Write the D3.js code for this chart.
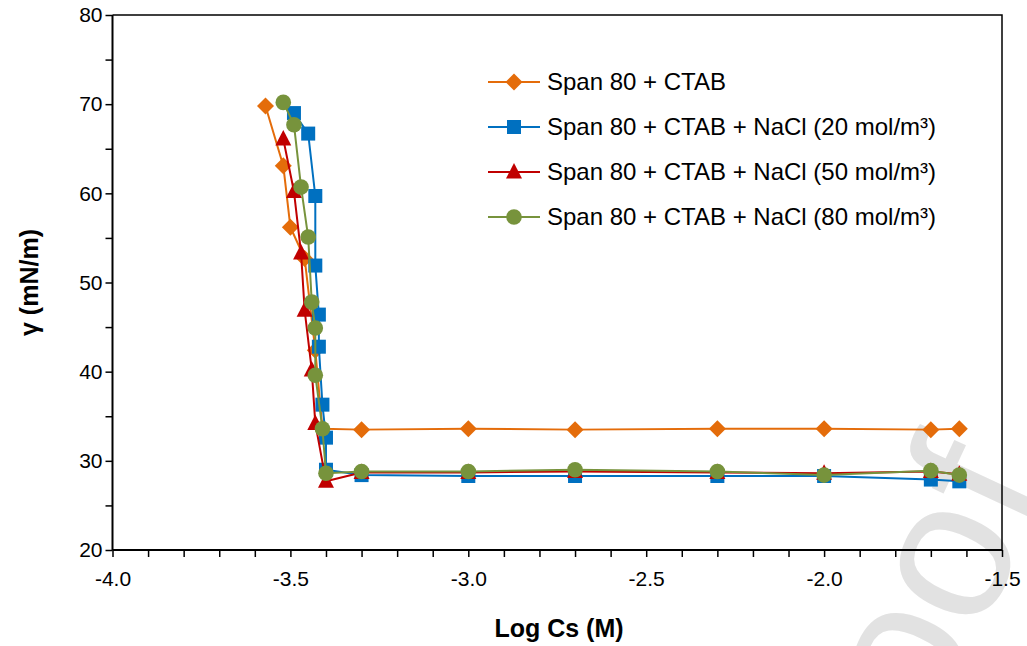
<!DOCTYPE html>
<html>
<head>
<meta charset="utf-8">
<script src="https://cdn.jsdelivr.net/npm/d3@7"></script>
<style>
  html, body { margin: 0; padding: 0; background: #fff; }
  svg { display: block; font-family: "Liberation Sans", Arial, sans-serif; }
</style>
</head>
<body>
<svg id="chart" width="1027" height="646"></svg>
<script>
// Surface tension vs. log surfactant concentration
const seriesNames = [
  "Span 80 + CTAB",
  "Span 80 + CTAB + NaCl (20 mol/m\u00B3)",
  "Span 80 + CTAB + NaCl (50 mol/m\u00B3)",
  "Span 80 + CTAB + NaCl (80 mol/m\u00B3)"
];

const logCsCTAB = [-3.57, -3.52, -3.50, -3.46, -3.43, -3.41, -3.30, -3.00, -2.70, -2.30, -2.00, -1.70, -1.62];
const gammaCTAB = [69.8, 63.1, 56.2, 52.7, 42.4, 33.6, 33.5, 33.6, 33.5, 33.6, 33.6, 33.5, 33.6];

const logCsNaCl20 = [-3.49, -3.45, -3.43, -3.43, -3.42, -3.42, -3.41, -3.40, -3.40, -3.30, -3.00, -2.70, -2.30, -2.00, -1.70, -1.62];
const gammaNaCl20 = [69.0, 66.7, 59.7, 51.9, 46.4, 42.8, 36.3, 32.6, 29.0, 28.4, 28.3, 28.3, 28.3, 28.3, 27.9, 27.7];

const logCsNaCl50 = [-3.52, -3.49, -3.47, -3.46, -3.44, -3.43, -3.40, -3.30, -3.00, -2.70, -2.30, -2.00, -1.70, -1.62];
const gammaNaCl50 = [66.1, 60.2, 53.3, 46.9, 40.2, 34.2, 27.7, 28.7, 28.7, 28.8, 28.7, 28.6, 28.8, 28.5];

const logCsNaCl80 = [-3.52, -3.49, -3.47, -3.45, -3.44, -3.43, -3.43, -3.41, -3.40, -3.30, -3.00, -2.70, -2.30, -2.00, -1.70, -1.62];
const gammaNaCl80 = [70.2, 67.7, 60.7, 55.1, 47.8, 44.9, 39.6, 33.6, 28.6, 28.8, 28.8, 29.0, 28.8, 28.4, 28.9, 28.4];

const xTickValues = [-4.0, -3.5, -3.0, -2.5, -2.0, -1.5];
const yTickValues = [20, 30, 40, 50, 60, 70, 80];
const xMinorStep = 0.1;
const yMinorStep = 5;

const xTitle = "Log Cs (M)";
const yTitle = "\u03B3 (mN/m)";
const watermarkText = "Journal Pre-proof";

const series = [
  { name: seriesNames[0], x: logCsCTAB,   y: gammaCTAB,   color: "#E46C0A", shape: "diamond" },
  { name: seriesNames[1], x: logCsNaCl20, y: gammaNaCl20, color: "#0070C0", shape: "square" },
  { name: seriesNames[2], x: logCsNaCl50, y: gammaNaCl50, color: "#C00000", shape: "triangle" },
  { name: seriesNames[3], x: logCsNaCl80, y: gammaNaCl80, color: "#77933C", shape: "circle" }
];

const svg = d3.select("#chart");
const margin = { left: 112.5, right: 1027 - 1002, top: 15, bottom: 646 - 550 };
const W = 1027, H = 646;

const x = d3.scaleLinear().domain([-4.0, -1.5]).range([margin.left, W - margin.right]);
const y = d3.scaleLinear().domain([20, 80]).range([H - margin.bottom, margin.top]);

// faint diagonal watermark behind the plot
svg.append("text")
  .attr("x", 0).attr("y", 0)
  .attr("transform", "translate(1050,485) rotate(-65)")
  .attr("text-anchor", "end")
  .attr("font-size", 200)
  .attr("fill", "#e2e2e2")
  .text(watermarkText);

// plot frame (top and right edges)
svg.append("path")
  .attr("d", `M${x(-4)},${y(80)} H${x(-1.5)} V${y(20)}`)
  .attr("fill", "none").attr("stroke", "#000").attr("stroke-width", 1.5);

// axes
const xMinor = d3.range(-4.0, -1.5 + 1e-9, xMinorStep);
const yMinor = d3.range(20, 80 + 1e-9, yMinorStep);

const gx = svg.append("g").attr("transform", `translate(0,${y(20)})`);
gx.call(d3.axisBottom(x).tickValues(xMinor).tickSize(7).tickFormat(""));
gx.call(g => g.selectAll(".tick line").attr("stroke", "#000").attr("stroke-width", 1.5));
gx.select(".domain").attr("stroke", "#000").attr("stroke-width", 2).attr("d", `M${x(-4)},0H${x(-1.5)}`);
const gxl = svg.append("g").attr("transform", `translate(0,${y(20)})`)
  .call(d3.axisBottom(x).tickValues(xTickValues).tickSize(0).tickPadding(21).tickFormat(d3.format(".1f")));
gxl.select(".domain").remove();
gxl.selectAll("text").attr("font-size", 21).attr("fill", "#000")
  .attr("font-family", "'Liberation Sans', Arial, sans-serif")
  .text(d => d3.format(".1f")(d).replace("\u2212", "-"));

const gy = svg.append("g").attr("transform", `translate(${x(-4)},0)`);
gy.call(d3.axisLeft(y).tickValues(yMinor).tickSize(7).tickFormat(""));
gy.call(g => g.selectAll(".tick line").attr("stroke", "#000").attr("stroke-width", 1.5));
gy.select(".domain").attr("stroke", "#000").attr("stroke-width", 2).attr("d", `M0,${y(20)}V${y(80)}`);
const gyl = svg.append("g").attr("transform", `translate(${x(-4)},0)`)
  .call(d3.axisLeft(y).tickValues(yTickValues).tickSize(0).tickPadding(10));
gyl.select(".domain").remove();
gyl.selectAll("text").attr("font-size", 21).attr("fill", "#000")
  .attr("font-family", "'Liberation Sans', Arial, sans-serif");

// axis titles
svg.append("text")
  .attr("x", 559).attr("y", 637)
  .attr("text-anchor", "middle").attr("font-size", 25).attr("font-weight", "bold")
  .text(xTitle);
svg.append("text")
  .attr("transform", `translate(38,${(y(20) + y(80)) / 2}) rotate(-90)`)
  .attr("text-anchor", "middle").attr("font-size", 25).attr("font-weight", "bold")
  .text(yTitle);

// marker drawing
function marker(sel, shape, color) {
  if (shape === "diamond") {
    sel.append("path").attr("d", "M0,-8.5L8.5,0L0,8.5L-8.5,0Z").attr("fill", color);
  } else if (shape === "square") {
    sel.append("rect").attr("x", -7).attr("y", -7).attr("width", 14).attr("height", 14).attr("fill", color);
  } else if (shape === "triangle") {
    sel.append("path").attr("d", "M0,-9L8,6.5L-8,6.5Z").attr("fill", color);
  } else {
    sel.append("circle").attr("r", 7.8).attr("fill", color);
  }
}

const line = d3.line().x(d => x(d[0])).y(d => y(d[1]));

series.forEach(s => {
  const pts = s.x.map((v, i) => [v, s.y[i]]);
  const g = svg.append("g");
  g.append("path").datum(pts).attr("d", line)
    .attr("fill", "none").attr("stroke", s.color).attr("stroke-width", 2).attr("stroke-linejoin", "round");
  g.selectAll("g.pt").data(pts).join("g").attr("class", "pt")
    .attr("transform", d => `translate(${x(d[0])},${y(d[1])})`)
    .each(function () { marker(d3.select(this), s.shape, s.color); });
});

// legend
const legend = svg.append("g");
series.forEach((s, i) => {
  const ly = 82 + i * 45;
  legend.append("line").attr("x1", 488).attr("x2", 540).attr("y1", ly).attr("y2", ly)
    .attr("stroke", s.color).attr("stroke-width", 2);
  const m = legend.append("g").attr("transform", `translate(514,${ly})`);
  marker(m, s.shape, s.color);
  legend.append("text").attr("x", 547).attr("y", ly + 8)
    .attr("font-size", 24).attr("fill", "#000").text(s.name);
});
</script>
</body>
</html>
